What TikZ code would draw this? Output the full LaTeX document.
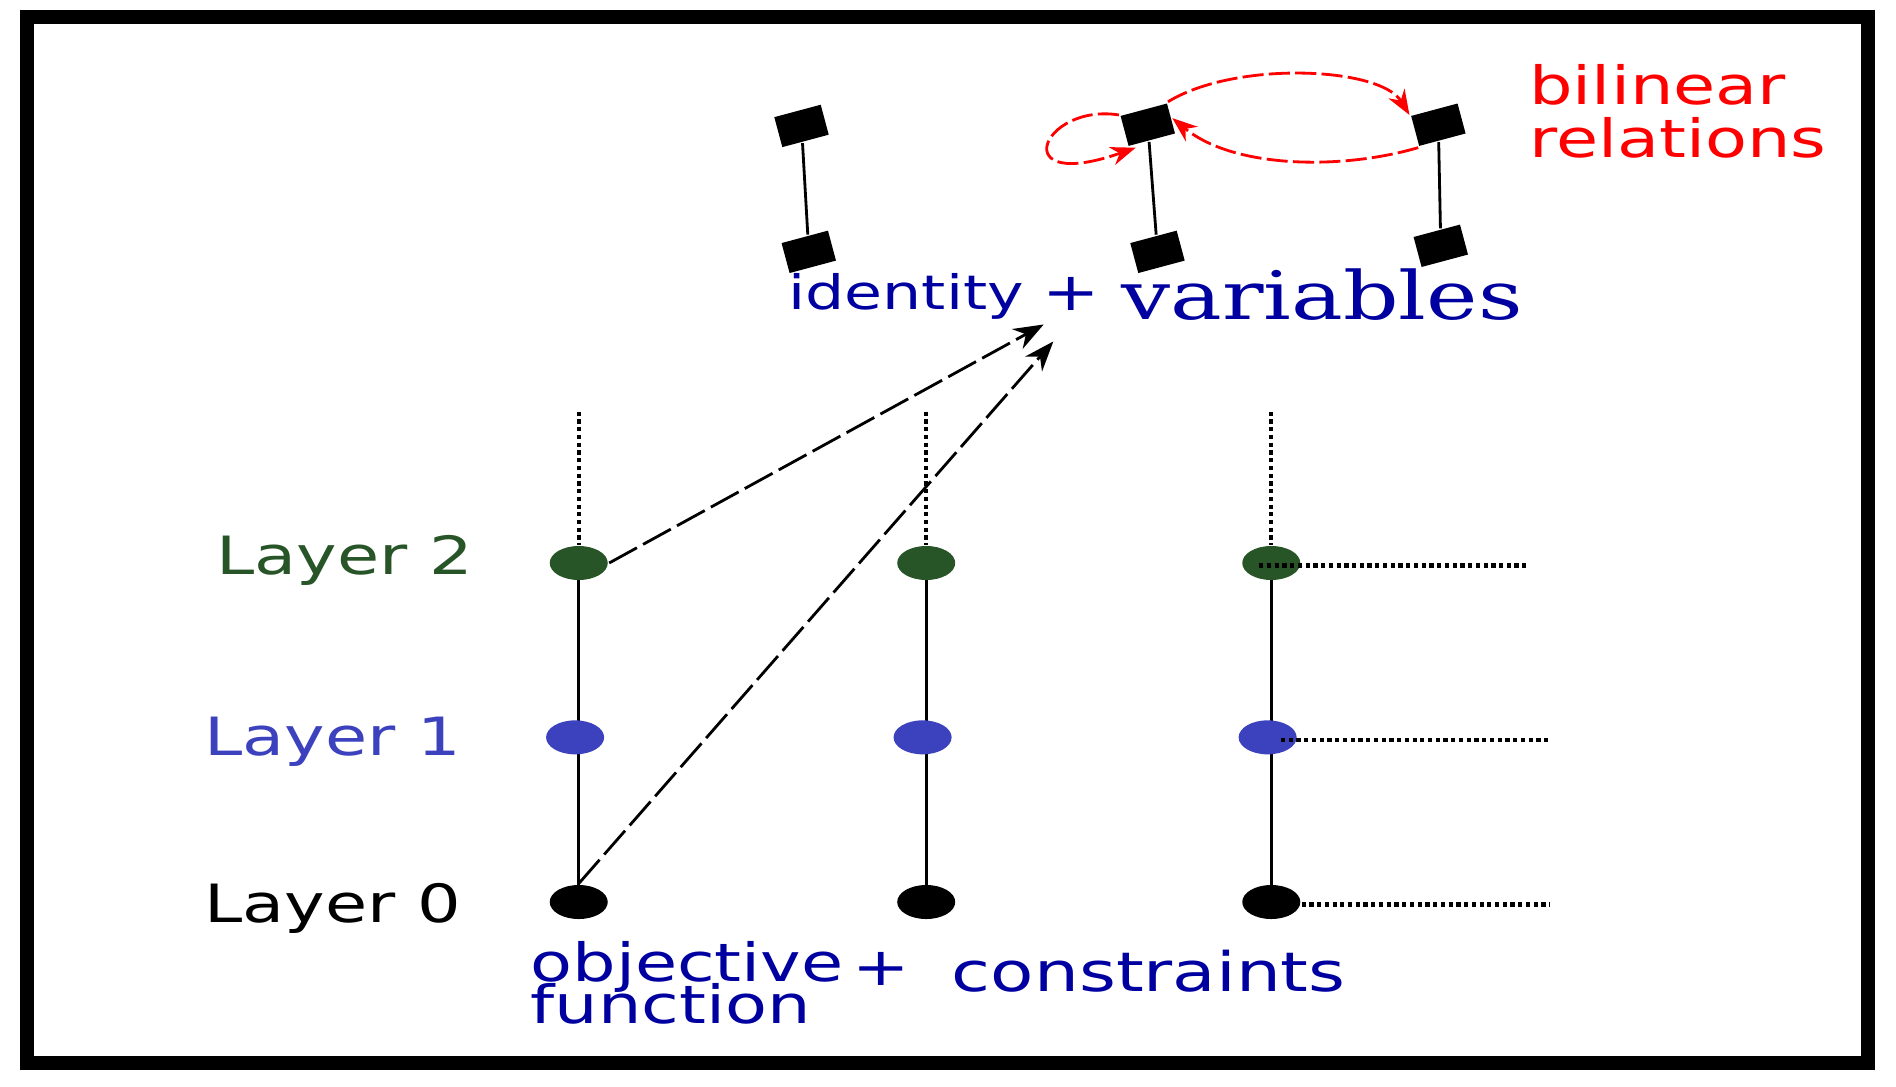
\documentclass[tikz,border=0pt]{standalone}
\usepackage{fontspec}
\setmainfont{DejaVu Sans}[FakeStretch=1.3]
\newfontfamily\serifwide{DejaVu Serif}[FakeStretch=1.3]
\usetikzlibrary{arrows.meta,shapes.geometric}
\definecolor{lgreen}{RGB}{40,85,40}
\definecolor{lblue}{RGB}{60,65,190}
\definecolor{tblue}{RGB}{0,0,160}
\begin{document}
\begin{tikzpicture}[
  x=0.0121cm, y=-0.0121cm,
  thick,
  txt/.style={font=\fontsize{15}{15}\selectfont, inner sep=0pt},
  dot/.style={ellipse, minimum width=0.58cm, minimum height=0.34cm, inner sep=0pt, fill=#1},
  sq/.style={fill=black, minimum width=0.48cm, minimum height=0.31cm, inner sep=0pt, rotate=15},
  link/.style={thick, -{Stealth[length=3mm]}, dash pattern=on 9pt off 2pt},
  rel/.style={red, thick, -{Stealth[length=2.5mm]}, dash pattern=on 6pt off 1.5pt},
  dots/.style={densely dotted, very thick}
]
  \useasboundingbox (0,0) rectangle (1566,897);
  \draw[line width=4pt] (22,14) rectangle (1543,878);
  % layer labels
  \node[txt, text=lgreen] (l2) at (285,463) {Layer 2};
  \node[txt, text=lblue] (l1) at (275,613) {Layer 1};
  \node[txt] (l0) at (275,750) {Layer 0};
  % columns
  \foreach \c/\x in {a/478,b/765,c/1050} {
    \coordinate (t\c) at (\x,340);
    \draw[dots] (t\c) -- (\x,450);
    \draw (\x,465) -- (\x,745);
    \node[dot=lgreen] (\c2) at (\x,465) {};
    \node[dot=lblue] (\c1) at (\x-3,609) {};
    \node[dot=black] (\c0) at (\x,745) {};
  }
  \coordinate (e2) at (1262,467);
  \coordinate (e1) at (1280,611);
  \coordinate (e0) at (1280,747);
  \draw[dots] (1040,467) -- (e2);
  \draw[dots] (1058,611) -- (e1);
  \draw[dots] (1075,747) -- (e0);
  % identity squares
  \node[sq] (s1) at (662,104) {};
  \node[sq] (s2) at (668,208) {};
  \node[sq] (s3) at (948,103) {};
  \node[sq] (s4) at (956,208) {};
  \node[sq] (s5) at (1188,103) {};
  \node[sq] (s6) at (1190,203) {};
  \draw (s1) -- (s2);
  \draw (s3) -- (s4);
  \draw (s5) -- (s6);
  % bilinear relations
  \draw[rel] (s3.north west) .. controls (860,85) and (830,160) .. (938,122);
  \draw[rel] (s3.north east) .. controls (1020,50) and (1140,55) .. (s5.north west);
  \draw[rel] (s5.south west) .. controls (1110,140) and (1020,140) .. (s3.east);
  \node[txt, text=red, align=left, anchor=west] (bil) at (1262,92) {bilinear\\relations};
  % texts
  \node[font=\fontsize{13.5}{14}\selectfont, inner sep=0pt, text=tblue, anchor=west] (id) at (650,245) {identity};
  \node[txt, text=tblue] (pl1) at (885,243) {+};
  \node[font=\serifwide\fontsize{19}{19}\selectfont, inner sep=0pt, text=tblue, anchor=west] (var) at (925,243) {variables};
  \node[txt, text=tblue, align=left, anchor=west] (obj) at (437,812) {objective\\[-3pt]function};
  \node[txt, text=tblue] (pl2) at (728,800) {+};
  \node[font=\fontsize{15.5}{16}\selectfont, inner sep=0pt, text=tblue, anchor=west] (con) at (785,802) {constraints};
  % links
  \coordinate (h1) at (862,268);
  \coordinate (h2) at (870,282);
  \draw[link] (a2.east) -- (h1);
  \draw[link] (a0.north) -- (h2);
\end{tikzpicture}
\end{document}
